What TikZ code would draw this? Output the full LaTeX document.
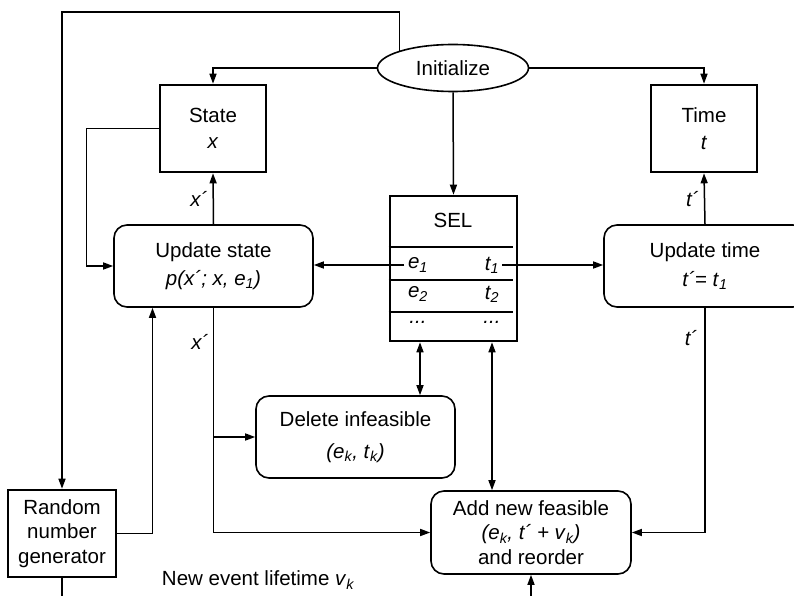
\documentclass[tikz,border=0pt]{standalone}
\usepackage{fontspec}
\setmainfont{Liberation Sans}
\usetikzlibrary{arrows.meta,shapes.geometric}
\newcommand\isub[1]{\textsubscript{\itshape #1}}
\begin{document}
\begin{tikzpicture}[x=1pt,y=-1pt,
  every node/.style={font=\fontsize{20.5}{24.5}\selectfont, inner sep=0pt},
  flow/.style={line width=1.5pt, -{Triangle[length=10pt,width=7pt]}},
  both/.style={line width=1.5pt, {Triangle[length=10pt,width=7pt]}-{Triangle[length=10pt,width=7pt]}},
  plain/.style={line width=1.5pt},
  store/.style={draw, line width=2.6pt, rectangle, align=center},
  proc/.style={draw, line width=1.6pt, rectangle, rounded corners=13pt, align=center},
  lbl/.style={font=\fontsize{20.5}{24.5}\selectfont\itshape}]
\useasboundingbox (0,0) rectangle (794,596);

% blocks
\node[draw, line width=1.6pt, ellipse, minimum width=151pt, minimum height=47pt] (init) at (453,68) {Initialize};
\node[store, minimum width=106pt, minimum height=87pt] (state) at (213,128.5) {State\\[2pt]\textit{x}};
\node[store, minimum width=106pt, minimum height=87pt] (time) at (704,128.5) {Time\\[2pt]\textit{t}};
\node[store, minimum width=127pt, minimum height=145pt] (sel) at (453.5,268.5) {};
\node[proc, minimum width=199pt, minimum height=82pt] (updstate) at (213.5,266) {Update state\\[4pt]\textit{p(x´; x, e}\isub{1}\textit{)}};
\node[proc, minimum width=202pt, minimum height=82pt] (updtime) at (705,266) {Update time\\[4pt]\textit{t´= t}\isub{1}};
\node[proc, minimum width=199pt, minimum height=82pt] (del) at (355.5,437) {Delete infeasible\\[7pt]\textit{(e}\isub{k}\textit{, t}\isub{k}\textit{)}};
\node[proc, minimum width=200pt, minimum height=83pt] (add) at (531,532.5) {Add new feasible\\[0pt]\textit{(e}\isub{k}\textit{, t´ + v}\isub{k}\textit{)}\\[0pt]and reorder};
\node[store, minimum width=108pt, minimum height=87pt] (rng) at (62,533.5) {Random\\[0pt]number\\[0pt]generator};

% scheduled event list contents
\node (seltitle) at (453,220) {SEL};
\draw[plain] (sel.west |- 0,247) -- (513,247);
\draw[plain] (sel.west |- 0,280) -- (513,280);
\draw[plain] (sel.west |- 0,312) -- (513,312);
\node[lbl] (e1) at (418,265) {e\isub{1}};
\node[lbl] (t1) at (492,265) {t\isub{1}};
\node[lbl] (e2) at (418,294) {e\isub{2}};
\node[lbl] (t2) at (492,294) {t\isub{2}};
\node[lbl] (d1) at (418,322) {...};
\node[lbl] (d2) at (492,322) {...};
\coordinate (e1L) at (404,265);
\coordinate (t1R) at (502,265);

% initialization
\draw[flow] (init.west) -| (state.north);
\draw[flow] (init.east) -| (time.north);
\draw[flow] (init.south) -- (sel.north);
\coordinate (topleft) at (62,12);
\draw[flow] (init.162) |- (topleft) -- (rng.north);

% state and time updates
\draw[flow] (updstate.north) -- node[lbl, left=5pt, pos=0.5] (xp1) {x´} (state.south);
\draw[flow] (state.west) -- ++(-72,0) |- (updstate.west);
\draw[flow] (e1L) -- (updstate.east |- e1L);
\draw[flow] (t1R) -- (updtime.west |- t1R);
\draw[flow] (updtime.north) -- node[lbl, left=5pt, pos=0.5] (tp1) {t´} (time.south);

% feasibility updates
\draw[flow] (updstate.south) |- (add.west);
\draw[flow] (updstate.south |- del.west) -- (del.west);
\node[lbl] (xp2) at (200,342) {x´};
\draw[flow] (updtime.south) |- (add.east);
\node[lbl] (tp2) at (691,338) {t´};
\draw[both] ([xshift=-33.5pt]sel.south) -- ([xshift=-33.5pt]sel.south |- del.north);
\draw[both] ([xshift=38.5pt]sel.south) -- ([xshift=38.5pt]sel.south |- add.north);

% random number generator
\draw[flow] (rng.east) -| ([xshift=-61pt]updstate.south);
\coordinate (rngout) at (62,596);
\draw[plain] (rng.south) -- (rngout);
\coordinate (addin) at (531,596);
\draw[flow] (addin) -- (add.south);
\node (life) at (258,580) {New event lifetime \textit{v}\isub{k}};
\end{tikzpicture}
\end{document}
